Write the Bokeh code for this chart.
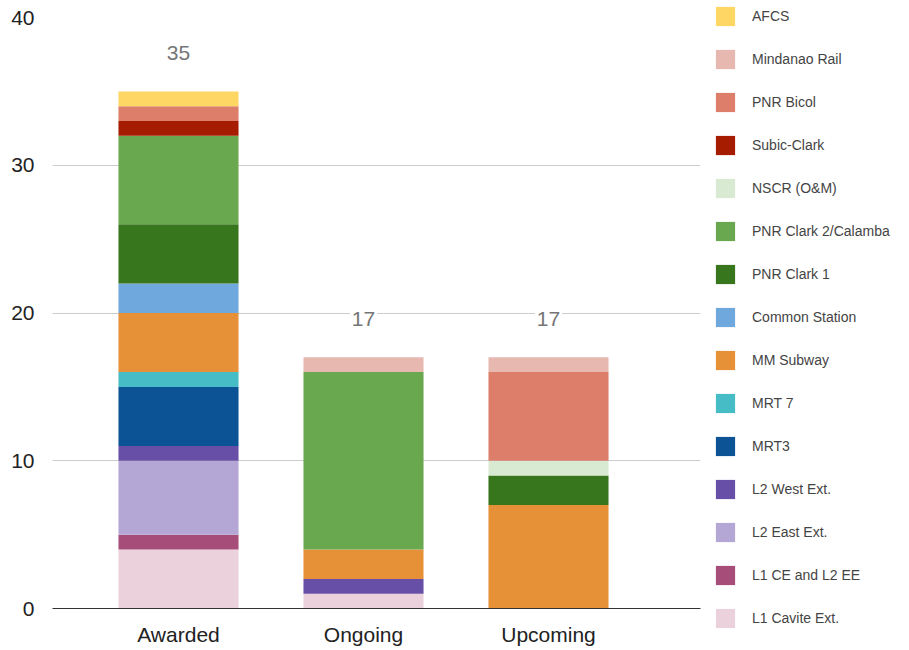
from bokeh.plotting import figure
from bokeh.models import ColumnDataSource, Range1d, FixedTicker, Legend, LegendItem
from bokeh.core.properties import value
from bokeh.embed import file_html
from bokeh.resources import INLINE

categories = ["Awarded", "Ongoing", "Upcoming"]

# stacking order bottom -> top
series = ["L1 Cavite Ext.", "L1 CE and L2 EE", "L2 East Ext.", "L2 West Ext.", "MRT3",
          "MRT 7", "MM Subway", "Common Station", "PNR Clark 1", "PNR Clark 2/Calamba",
          "NSCR (O&M)", "Subic-Clark", "PNR Bicol", "Mindanao Rail", "AFCS"]

l1_cavite = [4, 1, 0]
l1_ce_l2_ee = [1, 0, 0]
l2_east = [5, 0, 0]
l2_west = [1, 1, 0]
mrt3 = [4, 0, 0]
mrt7 = [1, 0, 0]
mm_subway = [4, 2, 7]
common_station = [2, 0, 0]
pnr_clark1 = [4, 0, 2]
pnr_clark2 = [6, 12, 0]
nscr = [0, 0, 1]
subic_clark = [1, 0, 0]
pnr_bicol = [1, 0, 6]
mindanao = [0, 1, 1]
afcs = [1, 0, 0]

values = [l1_cavite, l1_ce_l2_ee, l2_east, l2_west, mrt3, mrt7, mm_subway, common_station,
          pnr_clark1, pnr_clark2, nscr, subic_clark, pnr_bicol, mindanao, afcs]

colors = ["#EAD1DC", "#A64D79", "#B4A7D6", "#674EA7", "#0B5394", "#46BDC6", "#E69138",
          "#6FA8DC", "#38761D", "#6AA84F", "#D9EAD3", "#A61C00", "#DD7E6B", "#E6B8AF", "#FDD663"]

y_ticks = [0, 10, 20, 30, 40]

xs = list(range(len(categories)))
data = {"x": xs}
for name, vals in zip(series, values):
    data[name] = vals
source = ColumnDataSource(data)

totals = [sum(v[i] for v in values) for i in range(len(categories))]

FONT = "Liberation Sans"

p = figure(frame_width=648, frame_height=591, output_backend="svg", toolbar_location=None,
           x_range=Range1d(-126 / 185, len(categories) - 1 + 152 / 185),
           y_range=Range1d(0, 40),
           min_border_left=52, min_border_top=17, min_border_bottom=38, min_border_right=193)
p.outline_line_color = None

renderers = p.vbar_stack(series, x="x", width=0.649, color=colors, line_color=None, source=source)

tsrc = ColumnDataSource(dict(x=xs, y=totals, t=[str(t) for t in totals]))
p.text(x="x", y="y", text="t", source=tsrc, y_offset=-38, text_align="center",
       text_baseline="middle", text_color="#757575", text_font_size="21px",
       text_font=value(FONT), background_fill_color="white", padding=2)

items = [LegendItem(label=s, renderers=[r]) for s, r in zip(series, renderers)]
items.reverse()
legend = Legend(items=items, location=(13, -22), orientation="vertical",
                glyph_width=24, glyph_height=24, spacing=19, label_standoff=15,
                label_text_font=FONT, label_text_font_size="14px", label_text_color="#444444",
                padding=0, margin=0, border_line_color=None, background_fill_alpha=0)
p.add_layout(legend, "right")

p.xaxis.ticker = FixedTicker(ticks=xs)
p.xaxis.major_label_overrides = {i: c for i, c in enumerate(categories)}
p.xaxis.major_tick_line_color = None
p.xaxis.minor_tick_line_color = None
p.xaxis.axis_line_color = "#333333"
p.xaxis.major_label_text_font = FONT
p.xaxis.major_label_text_font_size = "21px"
p.xaxis.major_label_text_color = "#222222"
p.xaxis.major_label_standoff = 8

p.yaxis.ticker = FixedTicker(ticks=y_ticks)
p.yaxis.major_tick_line_color = None
p.yaxis.minor_tick_line_color = None
p.yaxis.axis_line_color = None
p.yaxis.major_label_text_font = FONT
p.yaxis.major_label_text_font_size = "21px"
p.yaxis.major_label_text_color = "#222222"
p.yaxis.major_label_standoff = 12

p.xgrid.grid_line_color = None
p.ygrid.grid_line_color = "#cccccc"
p.ygrid.ticker = FixedTicker(ticks=y_ticks)

open("out.html", "w").write(file_html(p, INLINE))
